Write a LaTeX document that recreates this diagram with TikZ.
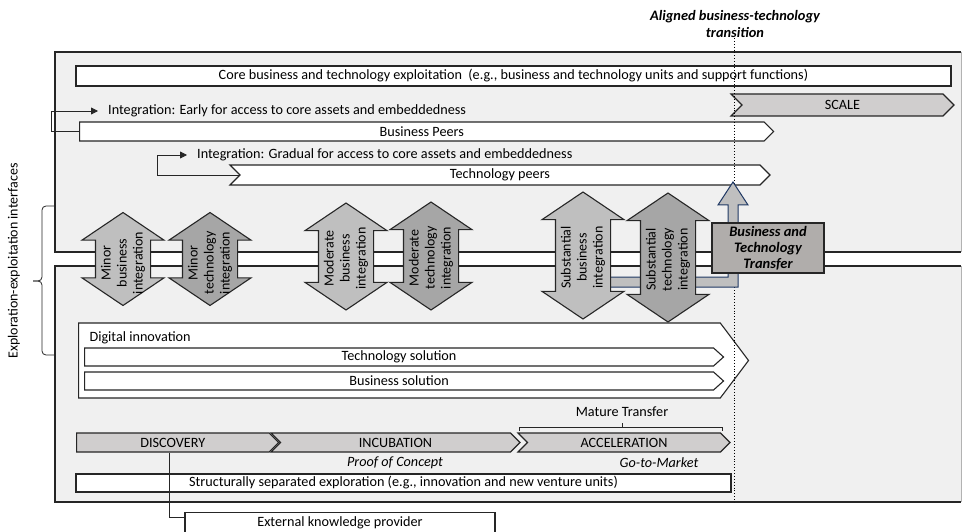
\documentclass[tikz,border=0pt]{standalone}
\usepackage{fontspec}
\setmainfont{Carlito}
\usetikzlibrary{positioning, arrows.meta, shapes.symbols, shapes.arrows}

\definecolor{panelgray}{HTML}{F0F0F0}
\definecolor{stagegray}{HTML}{D0CECE}
\definecolor{busgray}{HTML}{BFBFBF}
\definecolor{techgray}{HTML}{A6A6A6}
\definecolor{transgray}{HTML}{B0ADAB}
\definecolor{linegray}{HTML}{262626}
\definecolor{navyline}{HTML}{1F3864}

\begin{document}
\begin{tikzpicture}[x=1pt, y=-1pt,
    % general styles
    every node/.style={font=\fontsize{14.2}{16}\selectfont},
    plainbox/.style={rectangle, draw=linegray, line width=1.1pt, fill=white, inner sep=0pt},
    chevron/.style={signal, signal to=east, signal from=nowhere, signal pointer angle=90, draw=linegray, line width=1.1pt, fill=white, inner sep=0pt},
    notched/.style={chevron, signal from=west},
    stage/.style={notched, fill=stagegray, minimum height=19pt},
    integ/.style={double arrow, rotate=90, draw=linegray, line width=1.1pt, double arrow tip angle=112, double arrow head extend=13.5pt, text height=27pt, text depth=27pt, inner sep=0pt},
    integtext/.style={rotate=90, align=center, inner sep=0pt, font=\fontsize{14}{16}\selectfont},
    lead/.style={anchor=west, inner xsep=10pt},
    panelline/.style={draw=linegray, line width=1.3pt},
    link/.style={draw=linegray, line width=0.8pt},
    flowarrow/.style={link, -{Triangle[length=7pt, width=7pt]}}
]
\useasboundingbox (0,0) rectangle (962,532);

% ====================
% panels and interface band
% ====================
\fill[panelgray] (55,52) rectangle (961,252);
\fill[panelgray] (55,266) rectangle (961,502);
\draw[panelline] (961,52) -- (55,52) -- (55,252) -- (961,252);
\draw[panelline] (961,266) -- (55,266) -- (55,502) -- (961,502);
\draw[gray!60, line width=0.5pt] (961,52) -- (961,252) (961,266) -- (961,502);

\node[rotate=90, font=\fontsize{14}{16}\selectfont] (iface) at (14,261) {Exploration-exploitation interfaces};
\draw[link, rounded corners=4pt] (55,206) -- (42,206) -- (42,281) -- (33,281);
\draw[link, rounded corners=4pt] (55,355) -- (42,355) -- (42,281) -- (33,281);

% ====================
% exploitation
% ====================
\node[plainbox, minimum width=875pt, minimum height=20pt] (core) at (513.5,76) {Core business and technology exploitation~ (e.g., business and technology units and support functions)};
\node[notched, fill=stagegray, minimum width=223pt, minimum height=22pt] (scale) at (842.5,105) {SCALE};

\node[chevron, anchor=west, minimum width=694pt, minimum height=19pt] (bpeers) at (79,131.5) {Business Peers};
\node[lead] (earlyint) at (98,111) {Integration: Early for access to core assets and embeddedness};
\draw[flowarrow] (bpeers.west) -- ([xshift=-47pt]earlyint.west |- bpeers.west) |- (earlyint.west);

\node[notched, minimum width=540pt, minimum height=20pt] (tpeers) at (500,175) {Technology peers};
\node[lead] (gradint) at (187,155) {Integration: Gradual for access to core assets and embeddedness};
\draw[flowarrow] (tpeers.west) -- ([xshift=-30pt]gradint.west |- tpeers.west) |- (gradint.west);

% ====================
% exploration
% ====================
\node[chevron, anchor=west, signal pointer angle=106, minimum width=670pt, minimum height=75pt] (digital) at (78,360.5) {};
\node[anchor=west] (diglabel) at (86,338) {Digital innovation};
\node[chevron, anchor=west, signal pointer angle=84, minimum width=639pt, minimum height=18pt] (techsol) at (84,357) {Technology solution};
\node[chevron, anchor=west, signal pointer angle=84, minimum width=639pt, minimum height=18pt] (bussol) at (84,381) {Business solution};

\node[stage, anchor=west, signal from=nowhere, minimum width=202pt] (discovery) at (76,442.5) {DISCOVERY};
\node[stage, minimum width=249pt] (incubation) at (395.5,442.5) {INCUBATION};
\node[stage, minimum width=212pt] (acceleration) at (624,442.5) {ACCELERATION};
\node[font=\fontsize{14.2}{16}\selectfont\itshape] (poc) at (395,463) {Proof of Concept};
\node[font=\fontsize{14.2}{16}\selectfont\itshape] (gtm) at (659,463) {Go-to-Market};
\node (mature) at (622,412) {Mature Transfer};
\draw[link] (519,431) -- (519,427) -- (722,427) -- (722,431);
\draw[link] (mature.south |- 0,427) -- ++(0,-4);

\node[plainbox, minimum width=655pt, minimum height=18pt] (separated) at (403.5,483) {Structurally separated exploration (e.g., innovation and new venture units)};
\node[plainbox, anchor=north, minimum width=310pt, text height=11pt, text depth=24pt, inner ysep=3pt] (external) at (340,512) {External knowledge provider};
\draw[link] (discovery.south -| 169,0) |- ([yshift=-5pt]external.north west);

% ====================
% transition line and transfer
% ====================
\node[font=\fontsize{14.4}{17}\selectfont\bfseries\itshape, align=center] (aligned) at (735,24) {Aligned business-technology\\transition};
\draw[dotted, line width=0.9pt] (734,38) -- (734,502);

\draw[draw=navyline, fill=busgray, line width=1pt] (590,277) -- (728,277) -- (728,205) -- (718,205) -- (733,182) -- (748,205) -- (738,205) -- (738,287) -- (590,287) -- cycle;

\node[integ, fill=busgray, minimum height=93pt] (minbus) at (123,259) {};
\node[integ, fill=techgray, minimum height=93pt] (mintech) at (210,259) {};
\node[integ, fill=busgray, minimum height=107pt] (modbus) at (346,256.5) {};
\node[integ, fill=techgray, minimum height=108pt] (modtech) at (431,256) {};
\node[integ, fill=busgray, minimum height=127pt] (subbus) at (583,255.5) {};
\node[integ, fill=techgray, minimum height=129pt] (subtech) at (668,257.5) {};
\node[integtext] (minbustext) at ([yshift=-4pt]minbus) {Minor\\business\\integration};
\node[integtext] (mintechtext) at ([yshift=-4pt]mintech) {Minor\\technology\\integration};
\node[integtext] (modbustext) at ([yshift=-2pt]modbus) {Moderate\\business\\integration};
\node[integtext] (modtechtext) at ([yshift=-2pt]modtech) {Moderate\\technology\\integration};
\node[integtext] (subbustext) at ([yshift=-2pt]subbus) {Substantial\\business\\integration};
\node[integtext] (subtechtext) at ([yshift=-2pt]subtech) {Substantial\\technology\\integration};

\node[rectangle, draw=linegray, line width=1.1pt, fill=transgray, minimum width=112pt, minimum height=50pt, inner sep=0pt, align=center, font=\fontsize{14.5}{16}\selectfont\bfseries\itshape] (transfer) at (768,248) {Business and\\Technology\\Transfer};

\end{tikzpicture}
\end{document}
